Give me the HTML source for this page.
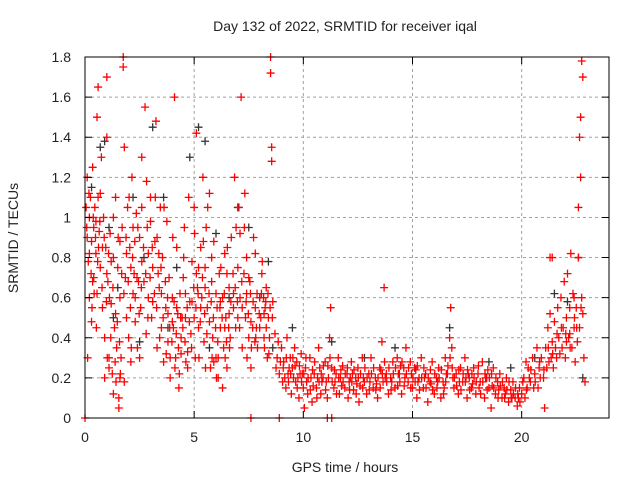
<!DOCTYPE html>
<html><head><meta charset="utf-8"><style>
html,body{margin:0;padding:0;background:#fff;}
svg{display:block;font-family:"Liberation Sans",sans-serif;}
</style></head><body>
<svg id="chart" width="640" height="480" viewBox="0 0 640 480">
<rect x="0" y="0" width="640" height="480" fill="#fff"/>
<text x="345" y="31" font-size="14" text-anchor="middle" fill="#222">Day 132 of 2022, SRMTID for receiver iqal</text>
<text x="345" y="472" font-size="14" text-anchor="middle" fill="#222">GPS time / hours</text>
<text x="18" y="238" font-size="14" text-anchor="middle" fill="#222" transform="rotate(-90 18 238)">SRMTID / TECUs</text>
<g id="grid"></g>
<g id="blackpts"></g>
<g id="redpts"></g>
<g id="axes"></g>
</svg>
<script>
const xTicks=[0,5,10,15,20];
const yTicks=[0,0.2,0.4,0.6,0.8,1,1.2,1.4,1.6,1.8];
const yTickLabels=["0","0.2","0.4","0.6","0.8","1","1.2","1.4","1.6","1.8"];
const redEarly="0.05,1.05 0.1,0.9 0.1,1.2 0.15,0.78 0.2,1.0 0.2,0.6 0.25,1.1 0.3,0.88 0.3,0.48 0.35,1.25 0.4,0.95 0.4,0.7 0.45,1.05 0.5,0.82 0.55,0.62 0.55,1.5 0.6,1.65 0.6,1.1 0.65,0.93 0.7,0.75 0.75,1.3 0.8,0.55 0.85,1.0 0.9,0.4 0.9,0.2 0.95,0.85 1.0,1.7 1.0,1.4 1.05,0.68 1.1,0.3 1.1,0.25 1.15,0.92 1.2,0.57 1.25,0.22 1.3,0.8 1.35,0.45 1.4,1.1 1.45,0.35 1.5,0.75 1.55,0.1 1.55,0.05 1.6,0.6 1.65,0.3 1.7,0.95 1.75,1.75 1.75,1.8 1.8,1.35 1.85,0.7 1.9,0.5 1.95,1.05 2.0,0.4 2.05,0.85 2.1,0.28 2.15,1.2 2.2,0.62 2.25,0.72 2.3,0.48 2.35,1.02 2.4,0.35 2.5,0.9 2.55,0.55 2.6,1.3 2.7,0.68 2.75,1.55 2.8,0.42 2.85,0.95 2.9,0.6 3.0,1.1 3.05,0.5 3.1,0.75 3.2,0.88 3.25,1.48 3.3,0.35 3.4,0.65 3.45,1.05 3.5,0.45 3.55,0.8 3.6,0.28 3.7,0.55 3.75,0.98 3.8,0.38 3.85,0.7 3.9,0.2 4.0,0.6 4.05,0.45 4.1,1.6 4.15,0.3 4.2,0.85 4.25,0.52 4.3,0.15 4.35,0.62 4.4,0.4 4.5,0.7 4.55,0.95 4.6,0.5 4.7,0.33 4.75,1.1 4.8,0.58 4.85,0.42 4.9,0.78 5.0,0.5 5.0,1.05 5.05,0.3 5.1,1.42 5.15,0.65 5.2,0.45 5.3,0.85 5.35,0.6 5.4,1.2 5.45,0.38 5.5,0.75 5.55,0.95 5.6,0.55 5.7,1.12 5.75,0.25 5.8,0.68 5.85,0.4 5.9,0.88 6.0,0.3 6.05,0.55 6.1,0.2 6.15,0.72 6.2,0.45 6.3,0.6 6.35,0.35 6.4,0.82 6.45,0.5 6.5,0.25 6.6,0.65 6.65,0.4 6.7,0.9 6.8,0.55 6.85,1.2 6.9,0.45 7.0,0.75 7.05,1.05 7.1,0.6 7.15,1.6 7.2,0.35 7.3,0.95 7.35,0.5 7.4,0.8 7.5,0.4 7.55,0.68 7.6,0.25 7.7,0.58 7.8,0.82 7.85,0.45 7.9,0.35 8.0,0.6 8.05,0.5 8.1,0.72 8.2,0.4 8.25,0.55 8.3,0.65 8.35,0.3 8.4,0.5 8.5,1.8 8.5,1.72 8.55,1.35 8.55,1.28 8.6,0.58 0.2,0.82 0.35,0.68 0.5,0.98 0.7,1.12 1.0,0.72 1.2,0.78 1.4,0.52 1.6,0.88 1.9,0.82 2.1,0.75 2.3,0.6 2.45,0.68 2.6,0.78 2.9,0.82 3.1,0.58 3.35,0.72 3.5,0.62 3.8,0.52 4.0,0.48 4.2,0.55 4.45,0.5 4.6,0.62 4.9,0.58 5.1,0.72 5.3,0.55 5.5,0.65 5.7,0.48 6.0,0.62 6.2,0.58 6.4,0.45 6.6,0.52 6.8,0.62 7.0,0.5 7.2,0.55 7.4,0.62 7.6,0.48 7.8,0.55 8.0,0.45 8.2,0.52 2.2,0.95 2.6,1.05 3.0,0.98 3.3,0.9 1.3,1.0 0.8,0.85 5.2,0.75 5.8,0.8 6.5,0.72 7.1,0.92 7.5,0.7 4.4,0.32 4.7,0.25 3.9,0.3 2.5,0.3 1.8,0.18 1.3,0.12 1.6,0.2 5.9,0.28 6.1,0.3 6.3,0.15 8.3,0.45 8.45,0.4 0.0,0.0 7.6,0.0 8.9,0.0";
const redEarly2="0.08,0.95 0.18,1.12 0.28,0.72 0.38,1.0 0.48,0.9 0.58,0.78 0.68,0.98 0.78,0.65 0.88,0.9 0.98,0.58 1.08,0.82 1.18,0.4 1.28,0.65 1.38,0.28 1.48,0.48 1.58,0.38 1.68,0.72 1.78,0.62 1.88,0.9 1.98,0.68 2.08,0.55 2.18,0.8 2.28,0.88 2.38,0.7 2.48,0.52 2.58,0.65 2.68,0.85 2.78,0.72 2.88,0.5 2.98,0.7 3.08,0.85 3.18,0.62 3.28,0.55 3.38,0.82 3.48,0.75 3.58,0.5 3.68,0.68 3.78,0.6 3.88,0.45 3.98,0.38 4.08,0.58 4.18,0.42 4.28,0.35 4.38,0.5 4.48,0.45 4.58,0.38 4.68,0.55 4.78,0.48 4.88,0.35 4.98,0.65 5.08,0.55 5.18,0.62 5.28,0.48 5.38,0.7 5.48,0.52 5.58,0.42 5.68,0.62 5.78,0.58 5.88,0.5 5.98,0.45 6.08,0.38 6.18,0.55 6.28,0.5 6.38,0.62 6.48,0.38 6.58,0.45 6.68,0.58 6.78,0.72 6.88,0.65 6.98,0.58 7.08,0.45 7.18,0.68 7.28,0.72 7.38,0.58 7.48,0.52 7.58,0.62 7.68,0.45 7.78,0.38 7.88,0.62 7.98,0.52 8.08,0.62 8.18,0.6 8.28,0.58 8.38,0.62 8.48,0.55 8.58,0.5 0.12,0.3 0.42,0.62 0.62,0.85 1.12,0.6 1.52,0.9 2.02,1.1 2.42,0.95 2.82,1.18 3.22,1.1 3.62,1.05 4.02,0.9 4.52,0.8 5.02,0.92 5.42,0.88 5.62,1.05 6.22,0.75 6.52,0.85 6.92,0.95 7.32,1.12 7.72,0.9 8.12,0.78 0.32,0.55 0.52,0.45 1.02,0.3 1.42,0.18 1.62,0.22 2.12,0.35 3.42,0.4 3.72,0.32 4.12,0.25 4.32,0.22 4.62,0.28 5.22,0.3 5.52,0.25 5.82,0.3 6.02,0.2 6.42,0.3 6.62,0.35 7.42,0.3 7.62,0.35 7.82,0.4 8.22,0.35 8.42,0.32";
const redMid="8.7,0.42 8.8,0.3 8.9,0.22 9.0,0.35 9.05,0.18 9.1,0.28 9.2,0.15 9.25,0.4 9.3,0.22 9.4,0.3 9.45,0.12 9.5,0.25 9.6,0.35 9.65,0.18 9.7,0.28 9.8,0.1 9.85,0.22 9.9,0.32 10.0,0.15 10.05,0.05 10.1,0.25 10.2,0.12 10.3,0.3 10.35,0.2 10.4,0.08 10.5,0.22 10.6,0.15 10.7,0.35 10.75,0.25 10.8,0.12 10.9,0.2 11.0,0.28 11.05,0.18 11.1,0.1 11.2,0.4 11.25,0.55 11.3,0.25 11.4,0.15 11.5,0.22 11.6,0.3 11.65,0.12 11.7,0.2 11.8,0.26 11.9,0.15 12.0,0.22 12.05,0.1 12.1,0.18 12.2,0.28 12.3,0.14 12.4,0.2 12.5,0.25 12.55,0.08 12.6,0.16 12.7,0.3 12.8,0.18 12.9,0.12 13.0,0.22 13.1,0.3 13.2,0.15 13.3,0.2 13.4,0.1 13.5,0.25 13.6,0.38 13.65,0.18 13.7,0.65 13.8,0.22 13.9,0.12 14.0,0.2 14.1,0.28 14.2,0.15 14.3,0.3 14.4,0.22 14.5,0.12 14.6,0.25 14.7,0.35 14.8,0.18 14.9,0.28 15.0,0.15 15.1,0.25 15.2,0.1 15.3,0.2 15.4,0.3 15.5,0.15 15.6,0.22 15.7,0.08 15.8,0.18 15.9,0.28 16.0,0.12 16.1,0.2 16.2,0.25 16.3,0.1 16.4,0.18 16.5,0.3 16.6,0.22 16.7,0.4 16.75,0.55 16.8,0.35 16.9,0.15 17.0,0.22 17.1,0.12 17.2,0.25 17.3,0.18 17.4,0.3 17.5,0.1 17.6,0.2 17.7,0.15 17.8,0.25 17.9,0.12 18.0,0.22 18.1,0.18 18.2,0.28 18.3,0.1 18.4,0.2 18.5,0.15 18.6,0.05 18.7,0.25 18.8,0.12 18.9,0.18 19.0,0.22 19.1,0.1 19.2,0.15 19.3,0.2 19.4,0.08 19.5,0.14 19.6,0.18 19.7,0.1 19.8,0.06 19.9,0.15 9.15,0.2 9.35,0.25 9.55,0.2 9.75,0.2 9.95,0.22 10.15,0.18 10.45,0.16 10.65,0.2 10.85,0.18 11.15,0.2 11.45,0.18 11.75,0.16 12.15,0.2 12.45,0.17 12.75,0.2 13.05,0.18 13.35,0.17 13.75,0.2 14.05,0.18 14.35,0.22 14.65,0.2 14.95,0.22 15.25,0.18 15.55,0.2 15.85,0.17 16.15,0.18 16.45,0.15 16.85,0.2 17.15,0.18 17.45,0.2 17.75,0.17 18.05,0.15 18.35,0.2 18.65,0.16 18.95,0.14 19.25,0.12 19.55,0.1 19.85,0.1 12.25,0.22 13.55,0.24 14.45,0.26 15.15,0.24 16.55,0.22 17.55,0.22 18.45,0.24 11.1,0.0 11.3,0.0";
const redMid2="8.75,0.25 8.85,0.38 8.95,0.28 9.08,0.25 9.22,0.3 9.32,0.18 9.42,0.22 9.52,0.3 9.62,0.26 9.72,0.15 9.82,0.26 9.92,0.18 10.02,0.22 10.12,0.3 10.22,0.2 10.32,0.14 10.42,0.24 10.52,0.28 10.62,0.1 10.72,0.18 10.82,0.22 10.92,0.26 11.02,0.14 11.12,0.26 11.22,0.3 11.32,0.18 11.42,0.24 11.52,0.12 11.62,0.2 11.72,0.24 11.82,0.18 11.92,0.22 12.02,0.25 12.12,0.14 12.22,0.18 12.32,0.24 12.42,0.12 12.52,0.2 12.62,0.22 12.72,0.15 12.82,0.25 12.92,0.2 13.02,0.14 13.12,0.22 13.22,0.25 13.32,0.14 13.42,0.2 13.52,0.15 13.62,0.22 13.72,0.28 13.82,0.18 13.92,0.25 14.02,0.14 14.12,0.22 14.22,0.25 14.32,0.16 14.42,0.18 14.52,0.28 14.62,0.16 14.72,0.22 14.82,0.25 14.92,0.15 15.02,0.2 15.12,0.18 15.22,0.26 15.32,0.14 15.42,0.2 15.52,0.25 15.62,0.15 15.72,0.2 15.82,0.24 15.92,0.14 16.02,0.22 16.12,0.15 16.22,0.2 16.32,0.24 16.42,0.12 16.52,0.18 16.62,0.26 16.72,0.3 16.82,0.25 16.92,0.2 17.02,0.16 17.12,0.24 17.22,0.14 17.32,0.22 17.42,0.18 17.52,0.24 17.62,0.14 17.72,0.22 17.82,0.2 17.92,0.18 18.02,0.26 18.12,0.12 18.22,0.18 18.32,0.22 18.42,0.14 18.52,0.2 18.62,0.22 18.72,0.15 18.82,0.2 18.92,0.1 19.02,0.16 19.12,0.18 19.22,0.1 19.32,0.14 19.42,0.18 19.52,0.1 19.62,0.12 19.72,0.15 19.82,0.12 19.92,0.08";
const redLate="20.0,0.12 20.1,0.2 20.2,0.28 20.25,0.15 20.3,0.25 20.4,0.18 20.5,0.3 20.6,0.22 20.7,0.35 20.75,0.15 20.8,0.25 20.9,0.3 21.0,0.2 21.05,0.05 21.1,0.35 21.2,0.45 21.25,0.28 21.3,0.52 21.4,0.38 21.45,0.25 21.5,0.48 21.6,0.3 21.65,0.55 21.7,0.4 21.8,0.6 21.85,0.35 21.9,0.45 21.95,0.68 22.0,0.3 22.05,0.5 22.1,0.72 22.15,0.4 22.2,0.55 22.25,0.82 22.3,0.35 22.35,0.62 22.4,0.45 22.45,0.28 22.5,0.55 22.55,0.38 22.6,0.8 22.6,1.05 22.65,0.45 22.65,1.4 22.7,1.5 22.7,1.2 22.75,0.6 22.75,1.78 22.8,1.7 22.8,0.52 22.85,0.3 22.9,0.18 20.15,0.1 20.35,0.2 20.55,0.15 20.85,0.2 21.15,0.25 21.35,0.3 21.55,0.35 21.75,0.32 22.05,0.38 22.2,0.42 22.4,0.6 21.3,0.8 21.4,0.8 20.05,0.18 20.22,0.14 20.42,0.24 20.62,0.18 20.82,0.28 21.02,0.24 21.22,0.35 21.42,0.32 21.62,0.42 21.82,0.45 22.02,0.42 22.22,0.35 22.42,0.5 22.52,0.45 22.72,0.55";
const blackPts="0.3,1.15 0.7,1.35 1.1,0.95 1.5,0.65 2.2,1.1 2.7,0.8 3.1,1.45 3.6,1.1 4.2,0.75 4.8,1.3 5.2,1.45 5.5,1.38 6.0,0.92 6.6,0.6 7.0,1.05 7.5,0.95 8.0,0.6 8.4,0.78 0.9,1.38 1.3,0.5 2.5,0.38 3.8,0.45 5.7,0.35 8.6,0.35 9.5,0.45 11.3,0.38 12.8,0.3 14.2,0.35 16.7,0.45 18.5,0.28 19.5,0.25 20.6,0.3 21.5,0.62 22.1,0.58 22.8,0.2 22.6,0.8";
const X0=85,X1=609,Y0=418,Y1=57;
function sx(v){return X0+(v/24)*(X1-X0);}
function sy(v){return Y0-(v/1.8)*(Y0-Y1);}
const NS="http://www.w3.org/2000/svg";
function mk(t,a){const e=document.createElementNS(NS,t);for(const k in a)e.setAttribute(k,a[k]);return e;}
const grid=document.getElementById('grid'),axes=document.getElementById('axes');
xTicks.forEach(t=>{
  const x=sx(t);
  if(t>0){const l=mk('line',{x1:x,y1:Y1,x2:x,y2:Y0,stroke:'#a0a0a0','stroke-dasharray':'3,3'});
  
  
  grid.appendChild(l);}
  const tk=mk('path',{d:`M${x},${Y0}v-7M${x},${Y1}v7`,stroke:'#000'});
  
  
  axes.appendChild(tk);
  const tx=mk('text',{x:x,y:Y0+24,'font-size':14,'text-anchor':'middle',fill:'#222'});
  tx.textContent=String(t);
  
  
  axes.appendChild(tx);
});
yTicks.forEach((t,i)=>{
  const y=sy(t);
  if(t>0&&t<1.8){const l=mk('line',{x1:X0,y1:y,x2:X1,y2:y,stroke:'#a0a0a0','stroke-dasharray':'3,3'});
  
  
  grid.appendChild(l);}
  const tk=mk('path',{d:`M${X0},${y}h7M${X1},${y}h-7`,stroke:'#000'});
  
  
  axes.appendChild(tk);
  const tx=mk('text',{x:X0-14,y:y+5,'font-size':14,'text-anchor':'end',fill:'#222'});
  tx.textContent=yTickLabels[i];
  
  
  axes.appendChild(tx);
});
const fr=mk('rect',{x:X0,y:Y1,width:X1-X0,height:Y0-Y1,fill:'none',stroke:'#000'});


axes.appendChild(fr);
function plot(str,g,col,name){
  let d='';
  str.trim().split(/\s+/).forEach(p=>{const [a,b]=p.split(',').map(Number);const x=sx(a),y=sy(b);d+=`M${x-4},${y}h8M${x},${y-4}v8`;});
  const pth=mk('path',{d:d,stroke:col,'stroke-width':1.3,fill:'none'});
  
  
  g.appendChild(pth);
}
plot(blackPts,document.getElementById('blackpts'),'#333','black-points');
const rg=document.getElementById('redpts');
plot(redEarly,rg,'#ff0000','red-points-early');
plot(redEarly2,rg,'#ff0000','red-points-early-extra');
plot(redMid,rg,'#ff0000','red-points-mid');
plot(redMid2,rg,'#ff0000','red-points-mid-extra');
plot(redLate,rg,'#ff0000','red-points-late');
</script>
</body></html>
